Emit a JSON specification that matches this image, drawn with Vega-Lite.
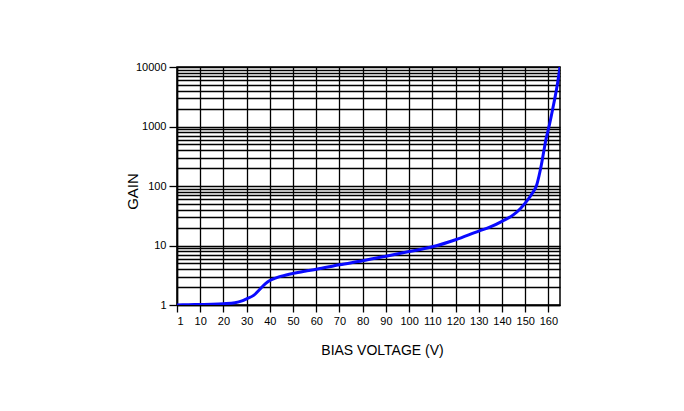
{
  "$schema": "https://vega.github.io/schema/vega-lite/v6.json",
  "autosize": "none",
  "width": 383,
  "height": 238,
  "padding": {"left": 177, "top": 67, "right": 124, "bottom": 106},
  "background": "white",
  "config": {
    "font": "Liberation Sans",
    "view": {"stroke": "black", "strokeWidth": 1.5},
    "axis": {"labelColor": "black", "titleColor": "black", "tickColor": "black", "domainColor": "black", "gridColor": "black", "gridOpacity": 1, "gridWidth": 1.3, "tickWidth": 1.3, "labelFontSize": 11, "titleFontSize": 14, "titleFontWeight": "normal", "labelFont": "Liberation Sans", "titleFont": "Liberation Sans"}
  },
  "data": {
    "values": [
      {"v": 0, "g": 1.0}, {"v": 5, "g": 1.01}, {"v": 10, "g": 1.02}, {"v": 15, "g": 1.03},
      {"v": 20, "g": 1.05}, {"v": 25, "g": 1.09}, {"v": 28, "g": 1.17}, {"v": 30, "g": 1.27},
      {"v": 33, "g": 1.45}, {"v": 35, "g": 1.72}, {"v": 38, "g": 2.27}, {"v": 40, "g": 2.58},
      {"v": 43, "g": 2.88}, {"v": 45, "g": 3.05}, {"v": 50, "g": 3.4}, {"v": 55, "g": 3.7},
      {"v": 60, "g": 3.98}, {"v": 70, "g": 4.75}, {"v": 80, "g": 5.55}, {"v": 90, "g": 6.6},
      {"v": 100, "g": 7.9}, {"v": 110, "g": 9.5}, {"v": 120, "g": 12.5}, {"v": 130, "g": 17.5},
      {"v": 135, "g": 20.5}, {"v": 140, "g": 25.5}, {"v": 145, "g": 33}, {"v": 148, "g": 42},
      {"v": 151, "g": 58}, {"v": 153, "g": 75}, {"v": 155, "g": 105}, {"v": 156, "g": 150},
      {"v": 157, "g": 230}, {"v": 158, "g": 380}, {"v": 159, "g": 620}, {"v": 160, "g": 900},
      {"v": 161, "g": 1350}, {"v": 162, "g": 2100}, {"v": 163, "g": 3300}, {"v": 164, "g": 5500},
      {"v": 165, "g": 10000}
    ]
  },
  "mark": {"type": "line", "color": "#0a0aff", "strokeWidth": 3, "interpolate": "monotone", "clip": true},
  "encoding": {
    "x": {
      "field": "v", "type": "quantitative",
      "scale": {"domain": [0, 165], "nice": false, "zero": false},
      "axis": {
        "title": "BIAS VOLTAGE (V)",
        "values": [0, 10, 20, 30, 40, 50, 60, 70, 80, 90, 100, 110, 120, 130, 140, 150, 160],
        "labelExpr": "datum.value == 0 ? '1' : datum.label",
        "format": "d",
        "tickSize": 7,
        "labelPadding": 3,
        "labelOverlap": false,
        "domainWidth": 1.5,
        "titleX": 205,
        "titleY": 49.5,
        "titleBaseline": "alphabetic",
        "titleAnchor": "middle"
      }
    },
    "y": {
      "field": "g", "type": "quantitative",
      "scale": {"type": "log", "domain": [1, 10000], "nice": false},
      "axis": {
        "title": "GAIN",
        "titleFontSize": 15,
        "values": [1,2,3,4,5,6,7,8,9,10,20,30,40,50,60,70,80,90,100,200,300,400,500,600,700,800,900,1000,2000,3000,4000,5000,6000,7000,8000,9000,10000],
        "labelExpr": "indexof([1,10,100,1000,10000], datum.value) >= 0 ? datum.value + '' : ''",
        "tickOpacity": {"condition": {"test": "indexof([1,10,100,1000,10000], datum.value) >= 0", "value": 1}, "value": 0},
        "tickSize": 8,
        "labelPadding": 3,
        "labelOverlap": false,
        "domainWidth": 1.5,
        "titleX": -40,
        "titleY": 124,
        "titleBaseline": "alphabetic",
        "titleAngle": -90
      }
    }
  }
}
